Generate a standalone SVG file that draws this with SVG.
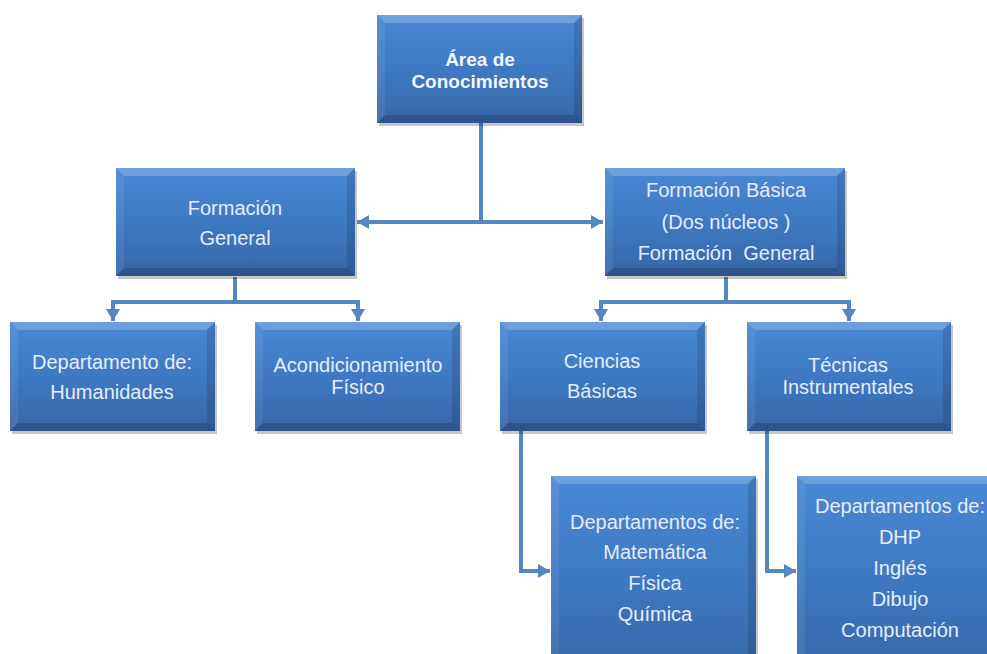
<svg xmlns="http://www.w3.org/2000/svg" width="987" height="654" viewBox="0 0 987 654">
<defs>
<linearGradient id="boxg" x1="0" y1="0" x2="0" y2="1">
<stop offset="0" stop-color="#4a88d6"/>
<stop offset="0.5" stop-color="#3f79c3"/>
<stop offset="1" stop-color="#3665a8"/>
</linearGradient>
<marker id="arr" markerUnits="userSpaceOnUse" markerWidth="14" markerHeight="16" refX="12" refY="8" orient="auto" viewBox="0 0 14 16">
<path d="M0,1 L12,8 L0,15 z" fill="#5586c4"/>
</marker>
<style>
.box{fill:url(#boxg);}
.shadow{fill:#000;opacity:0.22;}
.bt{fill:#fff;opacity:0.2;}
.bl{fill:#fff;opacity:0.07;}
.br{fill:#000;opacity:0.12;}
.bb{fill:#000;opacity:0.18;}
.t{font-family:"Liberation Sans",Arial,sans-serif;font-size:20px;fill:#e6edf7;text-anchor:middle;}
.tb{font-family:"Liberation Sans",Arial,sans-serif;font-size:19px;font-weight:bold;fill:#f4f7fc;text-anchor:middle;}
.c{fill:none;stroke:#5586c4;stroke-width:4;}
</style>
</defs>
<rect width="987" height="654" fill="#fff"/>

<g id="connectors">
<path class="c" d="M481,123 V222"/>
<path class="c" d="M481,222 H357" marker-end="url(#arr)"/>
<path class="c" d="M481,222 H603" marker-end="url(#arr)"/>
<path class="c" d="M235,277 V302"/>
<path class="c" d="M235,302 H113 V321" marker-end="url(#arr)"/>
<path class="c" d="M235,302 H358 V321" marker-end="url(#arr)"/>
<path class="c" d="M726,277 V302"/>
<path class="c" d="M726,302 H601 V321" marker-end="url(#arr)"/>
<path class="c" d="M726,302 H849 V321" marker-end="url(#arr)"/>
<path class="c" d="M521,431 V571 H550" marker-end="url(#arr)"/>
<path class="c" d="M767,431 V571 H796" marker-end="url(#arr)"/>
</g>

<g id="n-area">
<rect class="shadow" x="379" y="18" width="205" height="108"/>
<rect class="box" x="377" y="15" width="205" height="108"/>
<polygon class="bt" points="377,15 582,15 574,23 385,23"/>
<polygon class="bl" points="377,15 385,23 385,115 377,123"/>
<polygon class="br" points="582,15 574,23 574,115 582,123"/>
<polygon class="bb" points="377,123 385,115 574,115 582,123"/>
<text class="tb" x="480" y="66">Área de</text>
<text class="tb" x="480" y="88">Conocimientos</text>
</g>

<g id="n-formacion-general">
<rect class="shadow" x="118" y="171" width="239" height="108"/>
<rect class="box" x="116" y="168" width="239" height="108"/>
<polygon class="bt" points="116,168 355,168 347,176 124,176"/>
<polygon class="bl" points="116,168 124,176 124,268 116,276"/>
<polygon class="br" points="355,168 347,176 347,268 355,276"/>
<polygon class="bb" points="116,276 124,268 347,268 355,276"/>
<text class="t" x="235" y="215">Formación</text>
<text class="t" x="235" y="245">General</text>
</g>

<g id="n-formacion-basica">
<rect class="shadow" x="607" y="171" width="240" height="108"/>
<rect class="box" x="605" y="168" width="240" height="108"/>
<polygon class="bt" points="605,168 845,168 837,176 613,176"/>
<polygon class="bl" points="605,168 613,176 613,268 605,276"/>
<polygon class="br" points="845,168 837,176 837,268 845,276"/>
<polygon class="bb" points="605,276 613,268 837,268 845,276"/>
<text class="t" x="726" y="197">Formación Básica</text>
<text class="t" x="726" y="229">(Dos núcleos )</text>
<text class="t" x="726" y="260" xml:space="preserve">Formación  General</text>
</g>

<g id="n-humanidades">
<rect class="shadow" x="12" y="325" width="205" height="109"/>
<rect class="box" x="10" y="322" width="205" height="109"/>
<polygon class="bt" points="10,322 215,322 207,330 18,330"/>
<polygon class="bl" points="10,322 18,330 18,423 10,431"/>
<polygon class="br" points="215,322 207,330 207,423 215,431"/>
<polygon class="bb" points="10,431 18,423 207,423 215,431"/>
<text class="t" x="112" y="369">Departamento de:</text>
<text class="t" x="112" y="399">Humanidades</text>
</g>

<g id="n-acondicionamiento">
<rect class="shadow" x="257" y="325" width="205" height="109"/>
<rect class="box" x="255" y="322" width="205" height="109"/>
<polygon class="bt" points="255,322 460,322 452,330 263,330"/>
<polygon class="bl" points="255,322 263,330 263,423 255,431"/>
<polygon class="br" points="460,322 452,330 452,423 460,431"/>
<polygon class="bb" points="255,431 263,423 452,423 460,431"/>
<text class="t" x="358" y="372">Acondicionamiento</text>
<text class="t" x="358" y="394">Físico</text>
</g>

<g id="n-ciencias">
<rect class="shadow" x="502" y="325" width="205" height="109"/>
<rect class="box" x="500" y="322" width="205" height="109"/>
<polygon class="bt" points="500,322 705,322 697,330 508,330"/>
<polygon class="bl" points="500,322 508,330 508,423 500,431"/>
<polygon class="br" points="705,322 697,330 697,423 705,431"/>
<polygon class="bb" points="500,431 508,423 697,423 705,431"/>
<text class="t" x="602" y="368">Ciencias</text>
<text class="t" x="602" y="398">Básicas</text>
</g>

<g id="n-tecnicas">
<rect class="shadow" x="749" y="325" width="204" height="109"/>
<rect class="box" x="747" y="322" width="204" height="109"/>
<polygon class="bt" points="747,322 951,322 943,330 755,330"/>
<polygon class="bl" points="747,322 755,330 755,423 747,431"/>
<polygon class="br" points="951,322 943,330 943,423 951,431"/>
<polygon class="bb" points="747,431 755,423 943,423 951,431"/>
<text class="t" x="848" y="372">Técnicas</text>
<text class="t" x="848" y="394">Instrumentales</text>
</g>

<g id="n-dep-ciencias">
<rect class="shadow" x="553" y="479" width="205" height="200"/>
<rect class="box" x="551" y="476" width="205" height="200"/>
<polygon class="bt" points="551,476 756,476 748,484 559,484"/>
<polygon class="bl" points="551,476 559,484 559,676 551,676"/>
<polygon class="br" points="756,476 748,484 748,676 756,676"/>
<text class="t" x="655" y="529">Departamentos de:</text>
<text class="t" x="655" y="559">Matemática</text>
<text class="t" x="655" y="590">Física</text>
<text class="t" x="655" y="621">Química</text>
</g>

<g id="n-dep-tecnicas">
<rect class="shadow" x="799" y="479" width="205" height="200"/>
<rect class="box" x="797" y="476" width="205" height="200"/>
<polygon class="bt" points="797,476 1002,476 994,484 805,484"/>
<polygon class="bl" points="797,476 805,484 805,676 797,676"/>
<text class="t" x="900" y="513">Departamentos de:</text>
<text class="t" x="900" y="544">DHP</text>
<text class="t" x="900" y="575">Inglés</text>
<text class="t" x="900" y="606">Dibujo</text>
<text class="t" x="900" y="637">Computación</text>
</g>
</svg>
